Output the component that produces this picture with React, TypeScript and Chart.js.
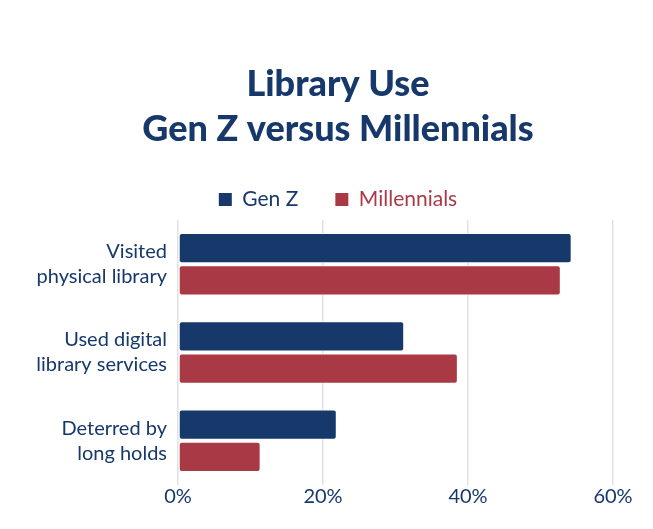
import React, { useEffect, useRef } from "react";
import { Chart, registerables } from "chart.js";

Chart.register(...registerables);

const categories: string[][] = [
  ["Visited", "physical library"],
  ["Used digital", "library services"],
  ["Deterred by", "long holds"],
];
const genZ: number[] = [54.3, 31.2, 21.9];
const millennials: number[] = [52.8, 38.6, 11.4];
const xTicks: number[] = [0, 20, 40, 60];
const titleLines: string[] = ["Library Use", "Gen Z versus Millennials"];

const NAVY = "#16386b";
const RED = "#aa3946";
const FONT = "Lato";

export default function App() {
  const ref = useRef<HTMLCanvasElement>(null);
  useEffect(() => {
    if (!ref.current) return;
    const barStyle = {
      borderColor: "rgba(255,255,255,0.55)",
      borderWidth: 1,
      borderRadius: 3,
      borderSkipped: false,
      categoryPercentage: 0.73,
      barPercentage: 0.94,
    };
    const chart = new Chart(ref.current, {
      type: "bar",
      data: {
        labels: categories,
        datasets: [
          { label: "Gen Z", data: genZ, backgroundColor: NAVY, ...barStyle },
          { label: "Millennials", data: millennials, backgroundColor: RED, ...barStyle },
        ],
      },
      options: {
        indexAxis: "y",
        animation: false,
        responsive: true,
        maintainAspectRatio: false,
        layout: { padding: { left: 33, right: 10, top: 62, bottom: 20 } },
        plugins: {
          title: {
            display: true,
            text: titleLines,
            color: NAVY,
            font: { family: FONT, size: 36, weight: 900, lineHeight: 1.25 },
            padding: { top: 0, bottom: 0 },
          },
          legend: {
            display: true,
            labels: {
              boxWidth: 13,
              boxHeight: 13,
              padding: 37,
              font: { family: FONT, size: 21 },
              generateLabels: (c: any) =>
                c.data.datasets.map((ds: any, i: number) => ({
                  text: ds.label,
                  fillStyle: ds.backgroundColor,
                  strokeStyle: ds.backgroundColor,
                  lineWidth: 0,
                  fontColor: ds.backgroundColor,
                  hidden: false,
                  datasetIndex: i,
                })),
            },
          },
          tooltip: { enabled: false },
        },
        scales: {
          x: {
            min: 0,
            max: 60,
            afterBuildTicks: (axis: any) => {
              axis.ticks = xTicks.map((v) => ({ value: v }));
            },
            afterFit: (axis: any) => {
              axis.paddingRight = 40;
            },
            ticks: {
              color: NAVY,
              font: { family: FONT, size: 20 },
              callback: (v: any) => v + "%",
              padding: 0,
            },
            grid: { color: "#e2e2e2", lineWidth: 1.5, drawTicks: false },
            border: { display: false },
          },
          y: {
            afterFit: (axis: any) => {
              axis.width = 145;
            },
            ticks: {
              color: NAVY,
              font: { family: FONT, size: 20, lineHeight: 1.25 },
              padding: 11,
            },
            grid: { display: false, drawTicks: false },
            border: { display: false },
          },
        },
      },
    });
    return () => chart.destroy();
  }, []);
  return (
    <div style={{ position: "fixed", left: 0, top: 0, width: 653, height: 529, background: "#fff" }}>
      <canvas ref={ref} />
    </div>
  );
}
